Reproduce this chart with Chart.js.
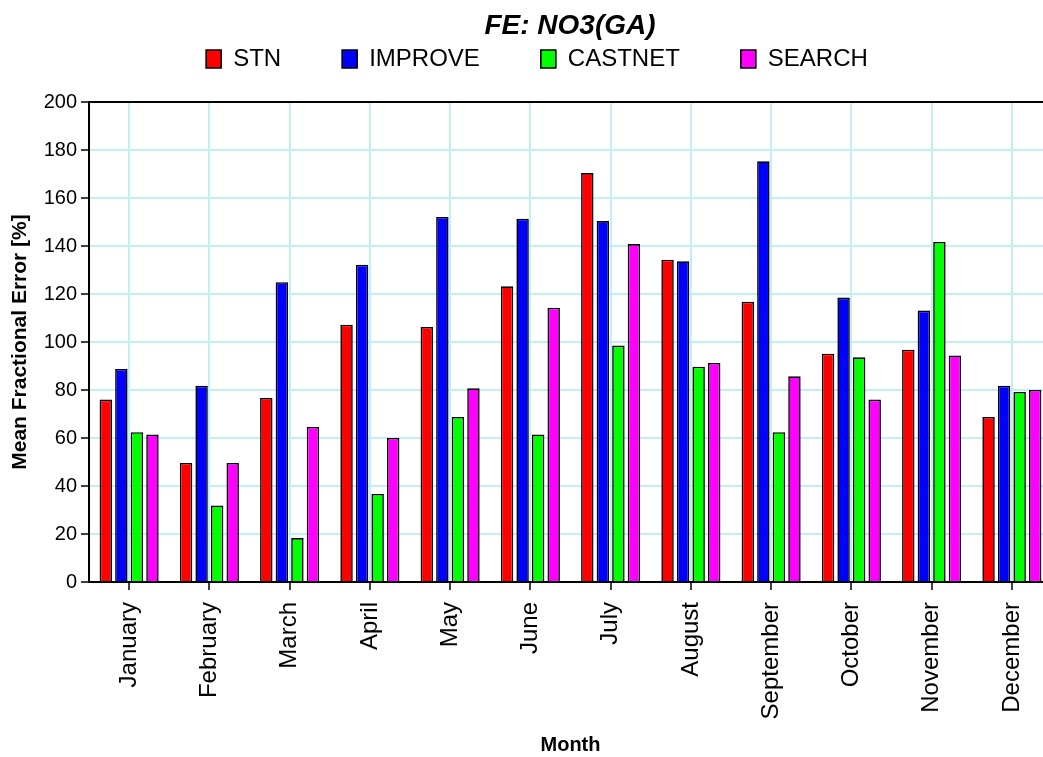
<!DOCTYPE html>
<html>
<head>
<meta charset="utf-8">
<title>FE: NO3(GA)</title>
<script src="https://cdn.jsdelivr.net/npm/chart.js@4.4.1/dist/chart.umd.min.js"></script>
<style>
    html, body { margin: 0; padding: 0; background: #fff; overflow: hidden; }
    #wrap { width: 1087px; height: 757px; }
</style>
</head>
<body>
<div id="wrap"><canvas id="fe-chart" width="1087" height="757"></canvas></div>
<script>
// Data
const months = ['January', 'February', 'March', 'April', 'May', 'June', 'July',
    'August', 'September', 'October', 'November', 'December'];
const stnValues = [76, 49.6, 76.7, 107.2, 106.3, 123.2, 170.4, 134.3, 116.8, 95.1, 96.8, 68.8];
const improveValues = [88.8, 81.8, 124.9, 132.2, 152.1, 151.4, 150.4, 133.6, 175.3, 118.5, 113.1, 81.8];
const castnetValues = [62.4, 31.9, 18.3, 36.7, 68.8, 61.5, 98.5, 89.7, 62.4, 93.6, 141.7, 79.2];
const searchValues = [61.5, 49.6, 64.6, 60, 80.7, 114.3, 140.8, 91.3, 85.7, 76, 94.4, 80];
const yTicks = [0, 20, 40, 60, 80, 100, 120, 140, 160, 180, 200];

const FONT = '"Liberation Sans", Arial, sans-serif';
const GRID = '#c2eff0';

// Plugin: judul di tengah area grafik, garis atas, dan posisi legend
const framePlugin = {
    id: 'frame',
    afterInit(chart) {
        const lg = chart.legend;
        const fit = lg.fit;
        lg.fit = function () {
            fit.call(this);
            this.height = 102;
        };
    },
    afterLayout(chart) {
        const lg = chart.legend;
        lg.top = -14;
        lg.left += 11;
        lg.right += 11;
    },
    afterDraw(chart) {
        const { ctx, chartArea } = chart;
        ctx.save();
        ctx.strokeStyle = '#000';
        ctx.lineWidth = 2;
        ctx.beginPath();
        ctx.moveTo(chartArea.left, chartArea.top);
        ctx.lineTo(chartArea.right, chartArea.top);
        ctx.stroke();

        ctx.fillStyle = '#000';
        ctx.font = 'italic bold 28px ' + FONT;
        ctx.textAlign = 'center';
        ctx.textBaseline = 'middle';
        ctx.fillText('FE: NO3(GA)', 570, 26);
        ctx.restore();
    }
};

function makeSet(label, values, color) {
    return {
        label: label,
        data: values,
        backgroundColor: color,
        borderColor: '#000',
        borderWidth: 1.6,
        categoryPercentage: 0.775,
        barPercentage: 0.8
    };
}

const feChart = new Chart(document.getElementById('fe-chart'), {
    type: 'bar',
    data: {
        labels: months,
        datasets: [
            makeSet('STN', stnValues, '#ff0000'),
            makeSet('IMPROVE', improveValues, '#0000ff'),
            makeSet('CASTNET', castnetValues, '#00ff00'),
            makeSet('SEARCH', searchValues, '#ff00ff')
        ]
    },
    options: {
        responsive: false,
        animation: false,
        layout: { padding: { left: 0, right: 35, top: 0, bottom: 0 } },
        plugins: {
            title: { display: false },
            tooltip: { enabled: false },
            legend: {
                position: 'top',
                labels: {
                    boxWidth: 15,
                    boxHeight: 18,
                    padding: 61,
                    color: '#000',
                    font: { family: FONT, size: 24 }
                }
            }
        },
        scales: {
            x: {
                afterFit(scale) { scale.height = 175; },
                grid: { color: GRID, lineWidth: 2, offset: false, tickColor: '#000', tickLength: 8, tickWidth: 1.5 },
                border: { color: '#000', width: 2 },
                ticks: {
                    color: '#000',
                    font: { family: FONT, size: 24 },
                    minRotation: 90,
                    maxRotation: 90,
                    padding: 12,
                    autoSkip: false
                },
                title: {
                    display: true,
                    text: 'Month',
                    color: '#000',
                    font: { family: FONT, size: 20, weight: 'bold', lineHeight: 1.2 },
                    padding: { top: 0, bottom: 0 }
                }
            },
            y: {
                min: 0,
                max: 200,
                afterFit(scale) { scale.width = 89; },
                afterBuildTicks(scale) { scale.ticks = yTicks.map(v => ({ value: v })); },
                grid: { color: GRID, lineWidth: 2, tickColor: '#000', tickLength: 8, tickWidth: 1.5 },
                border: { color: '#000', width: 2 },
                ticks: {
                    color: '#000',
                    font: { family: FONT, size: 20 },
                    padding: 4
                },
                title: {
                    display: true,
                    text: 'Mean Fractional Error [%]',
                    color: '#000',
                    font: { family: FONT, size: 21, weight: 'bold', lineHeight: 1.2 },
                    padding: { top: 8, bottom: 0 }
                }
            }
        }
    },
    plugins: [framePlugin]
});
</script>
</body>
</html>
